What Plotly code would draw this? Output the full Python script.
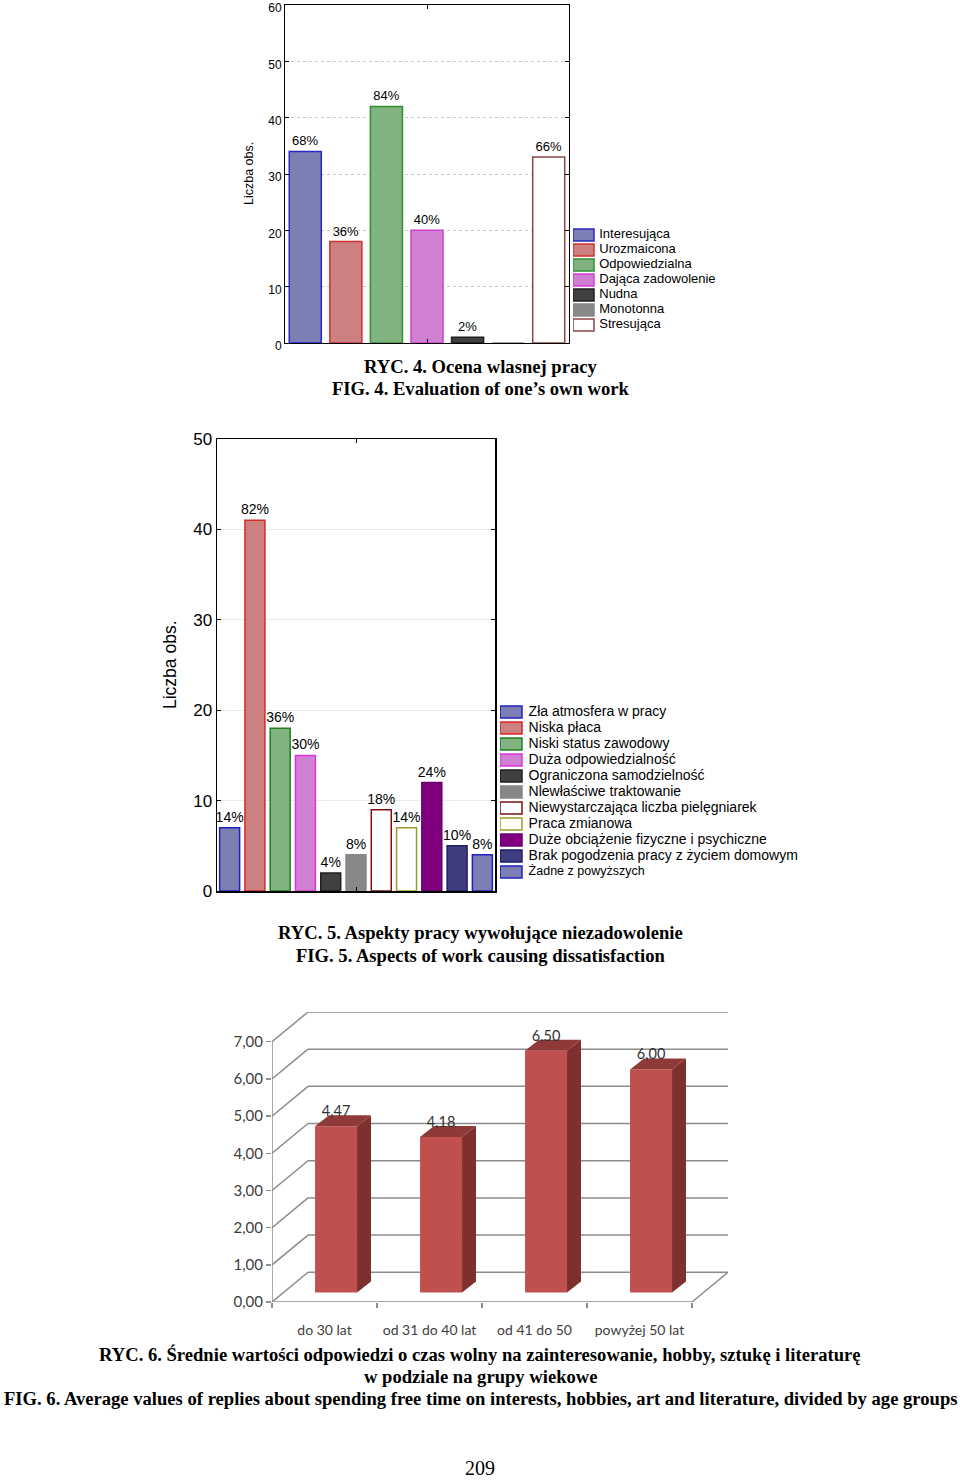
import plotly.graph_objects as go

W, H = 960, 1480

# ---------------- Data: RYC. 4 ----------------
cats4 = ["Interesująca", "Urozmaicona", "Odpowiedzialna", "Dająca zadowolenie",
         "Nudna", "Monotonna", "Stresująca"]
vals4 = [34, 18, 42, 20, 1, 0, 33]
labels4 = ["68%", "36%", "84%", "40%", "2%", "", "66%"]
ticks4 = [0, 10, 20, 30, 40, 50, 60]

# ---------------- Data: RYC. 5 ----------------
cats5 = ["Zła atmosfera w pracy", "Niska płaca", "Niski status zawodowy",
         "Duża odpowiedzialność", "Ograniczona samodzielność",
         "Nlewłaściwe traktowanie", "Niewystarczająca liczba pielęgniarek",
         "Praca zmianowa", "Duże obciążenie fizyczne i psychiczne",
         "Brak pogodzenia pracy z życiem domowym", "Żadne z powyższych"]
vals5 = [7, 41, 18, 15, 2, 4, 9, 7, 12, 5, 4]
labels5 = ["14%", "82%", "36%", "30%", "4%", "8%", "18%", "14%", "24%", "10%", "8%"]
ticks5 = [0, 10, 20, 30, 40, 50]

# ---------------- Data: RYC. 6 ----------------
cats6 = ["do 30 lat", "od 31 do 40 lat", "od 41 do 50", "powyżej 50 lat"]
vals6 = [4.47, 4.18, 6.50, 6.00]
ticks6 = [0, 1, 2, 3, 4, 5, 6, 7]

# ---------------- Styles ----------------
fill4 = ["#7b7fb3", "#cc8080", "#80b380", "#d080d0", "#404040", "#888888", "#ffffff"]
edge4 = ["#2828c0", "#d03030", "#309030", "#d040d0", "#202020", "#888888", "#8b4545"]
fill5 = ["#7b7fb3", "#cc8080", "#80b380", "#d080d0", "#404040", "#888888", "#ffffff",
         "#ffffff", "#800080", "#3e3e7e", "#7b7fb3"]
edge5 = ["#2020c0", "#d82828", "#208020", "#e030e0", "#202020", "#888888", "#7a1010",
         "#9a9a2a", "#680068", "#202060", "#2020c0"]
legend5_sizes = [14] * (len(cats5) - 1) + [12.5]

SANS = "Liberation Sans"
SERIF = "Liberation Serif"
CAL = "Lato"


def px_x(p):
    return p / W


def px_y(p):
    return 1 - p / H


fig = go.Figure()

# ---- Fig 4 bars ----
fig.add_trace(go.Bar(
    x=cats4, y=vals4, text=labels4, textposition="outside",
    textfont=dict(family=SANS, size=13, color="black"), constraintext="none",
    marker=dict(color=fill4, line=dict(color=edge4, width=1.5)),
    cliponaxis=False, showlegend=False, xaxis="x", yaxis="y"))

# ---- Fig 5 bars ----
fig.add_trace(go.Bar(
    x=cats5, y=vals5, text=labels5, textposition="outside",
    textfont=dict(family=SANS, size=14, color="black"), constraintext="none",
    marker=dict(color=fill5, line=dict(color=edge5, width=1.5)),
    cliponaxis=False, showlegend=False, xaxis="x2", yaxis="y2"))

# ---- Legend 4 (hidden axes) ----
fig.add_trace(go.Bar(
    x=[1] * len(cats4), y=cats4, orientation="h", width=0.8,
    marker=dict(color=fill4, line=dict(color=edge4, width=1.5)),
    showlegend=False, hoverinfo="skip", xaxis="x4", yaxis="y4"))
fig.add_trace(go.Scatter(
    x=[1.25] * len(cats4), y=cats4, mode="text", text=cats4,
    textposition="middle right", textfont=dict(family=SANS, size=13, color="black"),
    showlegend=False, hoverinfo="skip", xaxis="x4", yaxis="y4", cliponaxis=False))

# ---- Legend 5 (hidden axes) ----
fig.add_trace(go.Bar(
    x=[1] * len(cats5), y=cats5, orientation="h", width=0.75,
    marker=dict(color=fill5, line=dict(color=edge5, width=1.5)),
    showlegend=False, hoverinfo="skip", xaxis="x5", yaxis="y5"))
fig.add_trace(go.Scatter(
    x=[1.3] * len(cats5), y=cats5, mode="text", text=cats5,
    textposition="middle right",
    textfont=dict(family=SANS, size=legend5_sizes, color="black"),
    showlegend=False, hoverinfo="skip", xaxis="x5", yaxis="y5", cliponaxis=False))

# ---- Fig 6: pseudo-3D columns ----
n6 = len(cats6)
DX, DY = 0.343, 0.80      # wall depth (axis units)
OX, OY = 0.11, 0.256      # front face offset
BX, BY = 0.133, 0.296     # column depth
BW = 0.4
x6 = [i + OX for i in range(n6)]

fig.add_trace(go.Bar(
    x=x6, y=vals6, base=OY, width=BW,
    marker=dict(color="#c0504d", line=dict(width=0)),
    showlegend=False, xaxis="x3", yaxis="y3"))

side_x, side_y, top_x, top_y = [], [], [], []
for xc, v in zip(x6, vals6):
    xl, xr = xc - BW / 2, xc + BW / 2
    t = v + OY
    side_x += [xr, xr + BX, xr + BX, xr, xr, None]
    side_y += [OY, OY + BY, t + BY, t, OY, None]
    top_x += [xl, xr, xr + BX, xl + BX, xl, None]
    top_y += [t, t, t + BY, t + BY, t, None]

fig.add_trace(go.Scatter(x=side_x, y=side_y, mode="lines", fill="toself",
                         fillcolor="#7e302e", line=dict(width=0, color="#7e302e"),
                         showlegend=False, hoverinfo="skip", xaxis="x3", yaxis="y3"))
fig.add_trace(go.Scatter(x=top_x, y=top_y, mode="lines", fill="toself",
                         fillcolor="#8f3a38", line=dict(width=0, color="#8f3a38"),
                         showlegend=False, hoverinfo="skip", xaxis="x3", yaxis="y3"))
fig.add_trace(go.Scatter(
    x=x6, y=[v + OY + BY * 0.6 for v in vals6], mode="text",
    text=[f"{v:.2f}".replace(".", ",") for v in vals6], textposition="top center",
    textfont=dict(family=CAL, size=14.5, color="#303030"),
    showlegend=False, hoverinfo="skip", xaxis="x3", yaxis="y3", cliponaxis=False))

# wall / floor lines for fig 6 (below columns)
GRID6 = dict(color="#8c8c8c", width=1.5)
shapes = []
x_left, x_right = -0.5, n6 - 0.5
for k in ticks6:
    shapes.append(dict(type="line", xref="x3", yref="y3", x0=x_left + DX, x1=x_right + DX,
                       y0=k + DY, y1=k + DY, line=GRID6, layer="below"))
    shapes.append(dict(type="line", xref="x3", yref="y3", x0=x_left, x1=x_left + DX,
                       y0=k, y1=k + DY, line=GRID6, layer="below"))
shapes.append(dict(type="line", xref="x3", yref="y3", x0=x_left, x1=x_left,
                   y0=ticks6[0], y1=ticks6[-1], line=GRID6, layer="below"))
shapes.append(dict(type="line", xref="x3", yref="y3", x0=x_left, x1=x_right,
                   y0=0, y1=0, line=GRID6, layer="below"))
shapes.append(dict(type="line", xref="x3", yref="y3", x0=x_right, x1=x_right + DX,
                   y0=0, y1=DY, line=GRID6, layer="below"))

# ---------------- Axes ----------------
frame = dict(showline=True, linecolor="black", mirror="ticks", ticks="inside",
             ticklen=4, tickcolor="black", zeroline=False, automargin=False)

layout = dict(
    width=W, height=H, autosize=False,
    margin=dict(l=0, r=0, t=0, b=0, pad=0),
    paper_bgcolor="white", plot_bgcolor="rgba(0,0,0,0)",
    barmode="overlay", bargap=0.21, separators=",.",
    showlegend=False, shapes=shapes,
    xaxis=dict(domain=[px_x(285), px_x(569)], anchor="y", type="category",
               categoryorder="array", categoryarray=cats4, range=[-0.5, len(cats4) - 0.5],
               showticklabels=False, tickmode="array", tickvals=[cats4[3]],
               showgrid=False, linewidth=1, **frame),
    yaxis=dict(domain=[px_y(343), px_y(5)], anchor="x", range=[0, 60],
               tickvals=ticks4, tickfont=dict(family=SANS, size=12, color="black"),
               ticklabeloverflow="allow", ticklabelshift=3,
               showgrid=True, gridcolor="#c8c8c8", griddash="dot", gridwidth=1,
               linewidth=1, **frame),
    xaxis2=dict(domain=[px_x(217), px_x(495)], anchor="y2", type="category",
                categoryorder="array", categoryarray=cats5, range=[-0.5, len(cats5) - 0.5],
                showticklabels=False, tickmode="array", tickvals=[cats5[5]],
                showgrid=False, linewidth=1.5, **frame),
    yaxis2=dict(domain=[px_y(891), px_y(439)], anchor="x2", range=[0, 50],
                tickvals=ticks5, tickfont=dict(family=SANS, size=17, color="black"),
                ticklabeloverflow="allow",
                showgrid=True, gridcolor="#ececec", gridwidth=1,
                linewidth=1.5, **frame),
    xaxis3=dict(domain=[px_x(272), px_x(728)], anchor="y3", type="linear",
                range=[x_left, x_right + DX], showline=False, zeroline=False, showgrid=False,
                tickmode="array", tickvals=list(range(n6)), ticktext=cats6, ticks="",
                ticklabelstandoff=18, automargin=False,
                tickfont=dict(family=CAL, size=14, color="#404040"),
                minor=dict(tick0=-0.5, dtick=1, ticks="outside", ticklen=5,
                           tickcolor="#8c8c8c", tickwidth=1.5, showgrid=False)),
    yaxis3=dict(domain=[px_y(1302), px_y(1012)], anchor="x3", range=[0, 7 + DY],
                tickvals=ticks6, tickformat=".2f", showline=False, zeroline=False,
                showgrid=False, ticks="outside", ticklen=5, tickcolor="#8c8c8c",
                tickwidth=1.5, automargin=False,
                tickfont=dict(family=CAL, size=15, color="#404040")),
    xaxis4=dict(domain=[px_x(573), px_x(720)], anchor="y4", range=[0, 7], visible=False,
                automargin=False),
    yaxis4=dict(domain=[px_y(332.5), px_y(227.5)], anchor="x4", type="category",
                categoryorder="array", categoryarray=cats4, automargin=False,
                range=[len(cats4) - 0.5, -0.5], visible=False),
    xaxis5=dict(domain=[px_x(500), px_x(800)], anchor="y5", range=[0, 300 / 22],
                visible=False, automargin=False),
    yaxis5=dict(domain=[px_y(880), px_y(704)], anchor="x5", type="category",
                categoryorder="array", categoryarray=cats5, automargin=False,
                range=[len(cats5) - 0.5, -0.5], visible=False),
)
fig.update_layout(**layout)

# ---------------- Texts ----------------
ann = []


def add_text(txt, x, y, size, family=SERIF, weight="bold", angle=0, color="black"):
    ann.append(dict(text=txt, x=px_x(x), y=px_y(y), xref="paper", yref="paper",
                    showarrow=False, xanchor="center", yanchor="middle", textangle=angle,
                    font=dict(family=family, size=size, color=color, weight=weight)))


CAP = 18.6
add_text("Liczba obs.", 249, 174, 12.5, family=SANS, weight="normal", angle=-90)
add_text("Liczba obs.", 170, 665, 17.5, family=SANS, weight="normal", angle=-90)

add_text("RYC. 4. Ocena wlasnej pracy", 480, 367, CAP)
add_text("FIG. 4. Evaluation of one’s own work", 480, 389, CAP)
add_text("RYC. 5. Aspekty pracy wywołujące niezadowolenie", 480, 933, CAP)
add_text("FIG. 5. Aspects of work causing dissatisfaction", 480, 955, CAP)
add_text("RYC. 6. Średnie wartości odpowiedzi o czas wolny na zainteresowanie, hobby, sztukę i literaturę",
         480, 1354, CAP)
add_text("w podziale na grupy wiekowe", 480, 1376, CAP)
add_text("FIG. 6. Average values of replies about spending free time on interests, hobbies, art and literature, divided by age groups",
         480, 1398, 18.6)
add_text("209", 480, 1468, 20, weight="normal")

fig.update_layout(annotations=ann)

fig.write_html(
    "out.html",
    config={"displayModeBar": False, "staticPlot": True},
    post_script=("document.documentElement.style.margin='0px';"
                 "document.body.style.margin='0px';"
                 "document.body.style.padding='0px';"
                 "document.documentElement.style.overflow='hidden';"
                 "var d=document.getElementById('{plot_id}');"
                 "d.style.position='absolute';d.style.top='0px';d.style.left='0px';"))
